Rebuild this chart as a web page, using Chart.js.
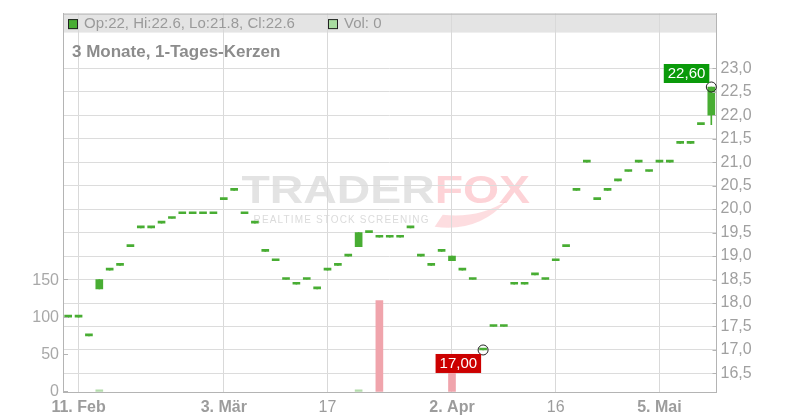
<!DOCTYPE html>
<html lang="de">
<head>
<meta charset="UTF-8">
<title>3 Monate, 1-Tages-Kerzen</title>
<script src="https://cdn.jsdelivr.net/npm/chart.js"></script>
<style>
  body { margin: 0; background: #fff; }
  canvas { display: block; }
</style>
</head>
<body>
<canvas id="chart" width="800" height="420"></canvas>
<script>
// Handelstage 10.02. - 12.05.
const days = [
  '10.02','11.02','12.02','13.02','14.02','17.02','18.02','19.02','20.02','21.02','24.02','25.02','26.02','27.02','28.02',
  '03.03','04.03','05.03','06.03','07.03','10.03','11.03','12.03','13.03','14.03','17.03','18.03','19.03','20.03','21.03',
  '24.03','25.03','26.03','27.03','28.03','31.03',
  '01.04','02.04','03.04','04.04','07.04','08.04','09.04','10.04','11.04','14.04','15.04','16.04','17.04','22.04','23.04',
  '24.04','25.04','28.04','29.04','30.04',
  '02.05','05.05','06.05','07.05','08.05','09.05','12.05'
];
const opens = [
  17.7,17.7,17.3,18.3,18.7,18.8,19.2,19.6,19.6,19.7,19.8,19.9,19.9,19.9,19.9,
  20.2,20.4,19.9,19.7,19.1,18.9,18.5,18.4,18.5,18.3,18.7,18.8,19.0,19.2,19.5,
  19.4,19.4,19.4,19.6,19.0,18.8,
  19.1,18.9,18.7,18.5,17.0,17.5,17.5,18.4,18.4,18.6,18.5,18.9,19.2,20.4,21.0,
  20.2,20.4,20.6,20.8,21.0,
  20.8,21.0,21.0,21.4,21.4,21.8,22.0
];
const highs = [
  17.7,17.7,17.3,18.5,18.7,18.8,19.2,19.6,19.6,19.7,19.8,19.9,19.9,19.9,19.9,
  20.2,20.4,19.9,19.7,19.1,18.9,18.5,18.4,18.5,18.3,18.7,18.8,19.0,19.5,19.5,
  19.4,19.4,19.4,19.6,19.0,18.8,
  19.1,19.0,18.7,18.5,17.0,17.5,17.5,18.4,18.4,18.6,18.5,18.9,19.2,20.4,21.0,
  20.2,20.4,20.6,20.8,21.0,
  20.8,21.0,21.0,21.4,21.4,21.8,22.6
];
const lows = [
  17.7,17.7,17.3,18.3,18.7,18.8,19.2,19.6,19.6,19.7,19.8,19.9,19.9,19.9,19.9,
  20.2,20.4,19.9,19.7,19.1,18.9,18.5,18.4,18.5,18.3,18.7,18.8,19.0,19.2,19.5,
  19.4,19.4,19.4,19.6,19.0,18.8,
  19.1,18.9,18.7,18.5,17.0,17.5,17.5,18.4,18.4,18.6,18.5,18.9,19.2,20.4,21.0,
  20.2,20.4,20.6,20.8,21.0,
  20.8,21.0,21.0,21.4,21.4,21.8,21.8
];
const closes = [
  17.7,17.7,17.3,18.5,18.7,18.8,19.2,19.6,19.6,19.7,19.8,19.9,19.9,19.9,19.9,
  20.2,20.4,19.9,19.7,19.1,18.9,18.5,18.4,18.5,18.3,18.7,18.8,19.0,19.5,19.5,
  19.4,19.4,19.4,19.6,19.0,18.8,
  19.1,19.0,18.7,18.5,17.0,17.5,17.5,18.4,18.4,18.6,18.5,18.9,19.2,20.4,21.0,
  20.2,20.4,20.6,20.8,21.0,
  20.8,21.0,21.0,21.4,21.4,21.8,22.6
];
const volumes = [
  0,0,0,3,0,0,0,0,0,0,0,0,0,0,0,
  0,0,0,0,0,0,0,0,0,0,0,0,0,3,0,
  123,0,0,0,0,0,
  0,35,0,0,0,0,0,0,0,0,0,0,0,0,0,
  0,0,0,0,0,
  0,0,0,0,0,0,0
];
// Achsenbeschriftung
const axisDays = ['11.02','03.03','17.03','02.04','16.04','05.05'];
const axisText = ['11. Feb','3. Mär','17','2. Apr','16','5. Mai'];
const priceTicks = [16.5,17,17.5,18,18.5,19,19.5,20,20.5,21,21.5,22,22.5,23];
const volTicks = [0,50,100,150];

const FONT = '"Liberation Sans", Arial, sans-serif';
const GREEN = '#48ad33';
const last = closes.length - 1;
const hiIdx = highs.indexOf(Math.max(...highs));
const loIdx = lows.indexOf(Math.min(...lows));
const fmt = v => v.toFixed(2).replace('.', ',');

const deco = {
  id: 'deco',
  beforeDraw(chart) {
    const { ctx, chartArea: a } = chart;
    ctx.save();
    ctx.fillStyle = '#fff';
    ctx.fillRect(0, 0, chart.width, chart.height);
    // Kopfzeile
    ctx.fillStyle = '#e4e4e4';
    ctx.fillRect(a.left, a.top, a.right - a.left, 19);

    // Wasserzeichen
    const cx = (a.left + a.right) / 2 - 4, cy = (a.top + a.bottom) / 2;
    ctx.font = 'bold 38px ' + FONT;
    ctx.textBaseline = 'alphabetic';
    const wT = ctx.measureText('TRADER').width, wF = ctx.measureText('FOX').width;
    const sx = 1.22;
    const x0 = cx - (wT + wF) * sx / 2;
    ctx.save();
    ctx.translate(x0, cy + 0.5);
    ctx.scale(sx, 1);
    ctx.fillStyle = 'rgba(200,200,200,0.5)';
    ctx.fillText('TRADER', 0, 0);
    ctx.fillStyle = 'rgba(250,150,160,0.42)';
    ctx.fillText('FOX', wT, 0);
    ctx.restore();
    // Fuchsschwanz
    const fx = x0 + wT * sx;
    ctx.fillStyle = 'rgba(250,150,160,0.32)';
    ctx.beginPath();
    ctx.moveTo(fx, cy + 24);
    ctx.quadraticCurveTo(fx + 44, cy + 30, fx + 72, cy - 2);
    ctx.quadraticCurveTo(fx + 44, cy + 16, fx + 8, cy + 12);
    ctx.closePath();
    ctx.fill();
    // Untertitel
    ctx.font = '10px ' + FONT;
    ctx.textBaseline = 'middle';
    const sub = 'REALTIME STOCK SCREENING';
    const ws = ctx.measureText(sub).width;
    ctx.letterSpacing = ((175 - ws) / (sub.length - 1)).toFixed(2) + 'px';
    ctx.fillStyle = 'rgba(195,195,195,0.6)';
    ctx.fillText(sub, x0 + 12, cy + 17.5);
    ctx.letterSpacing = '0px';
    ctx.restore();
  },
  afterDatasetsDraw(chart) {
    const { ctx, chartArea: a, scales } = chart;
    const x = scales.x, y = scales.y, v = scales.yVol;
    ctx.save();
    // Rahmen oben und Striche nach innen
    ctx.strokeStyle = '#b4b4b4';
    ctx.lineWidth = 1;
    ctx.beginPath();
    ctx.moveTo(a.left, a.top + 0.5);
    ctx.lineTo(a.right, a.top + 0.5);
    priceTicks.forEach(t => {
      const py = Math.round(y.getPixelForValue(t)) + 0.5;
      ctx.moveTo(a.right - 4, py); ctx.lineTo(a.right, py);
    });
    volTicks.forEach(t => {
      const py = Math.round(v.getPixelForValue(t)) - 0.5;
      ctx.moveTo(a.left, py); ctx.lineTo(a.left + 5, py);
    });
    ctx.stroke();

    // Legende in der Kopfzeile
    ctx.font = '15px ' + FONT;
    ctx.textBaseline = 'middle';
    const ly = a.top + 10.5;
    ctx.fillStyle = GREEN;
    ctx.fillRect(a.left + 5, ly - 5, 10, 10);
    ctx.strokeStyle = '#222';
    ctx.strokeRect(a.left + 5.5, ly - 4.5, 9, 9);
    ctx.fillStyle = '#9a9a9a';
    ctx.fillText(`Op:${opens[last]}, Hi:${highs[last]}, Lo:${lows[last]}, Cl:${closes[last]}`, a.left + 21, ly);
    ctx.fillStyle = '#a8dca0';
    ctx.fillRect(a.left + 265, ly - 5, 10, 10);
    ctx.strokeStyle = '#222';
    ctx.strokeRect(a.left + 265.5, ly - 4.5, 9, 9);
    ctx.fillStyle = '#9a9a9a';
    ctx.fillText(`Vol: ${volumes[last]}`, a.left + 281, ly);

    // Titel
    ctx.font = 'bold 17px ' + FONT;
    ctx.textBaseline = 'alphabetic';
    ctx.fillStyle = '#8c8c8c';
    ctx.fillText('3 Monate, 1-Tages-Kerzen', a.left + 9, a.top + 43);

    // Hoch / Tief Marken
    ctx.font = '15px ' + FONT;
    ctx.textBaseline = 'middle';
    [[hiIdx, highs[hiIdx], '#0a9a0a', -1], [loIdx, lows[loIdx], '#cc0000', 1]].forEach(([i, val, col, dir]) => {
      const px = x.getPixelForValue(i), py = y.getPixelForValue(val);
      const txt = fmt(val);
      const w = ctx.measureText(txt).width + 8, h = 19;
      const top = dir < 0 ? py - 4 - h : py + 4;
      ctx.fillStyle = col;
      ctx.fillRect(px - 2 - w, top, w, h);
      ctx.fillStyle = '#fff';
      ctx.fillText(txt, px - 2 - w + 4, top + h / 2 + 0.5);
    });
    ctx.restore();
  }
};

new Chart(document.getElementById('chart'), {
  type: 'bar',
  data: {
    labels: days,
    datasets: [
      {
        label: 'Vol',
        data: volumes,
        yAxisID: 'yVol',
        backgroundColor: closes.map((c, i) => volumes[i] === 0 ? 'rgba(0,0,0,0)' :
          (i > 0 && c < closes[i - 1] ? '#f0a4ac' : '#b4dcac')),
        barThickness: 7,
        grouped: false,
        order: 4
      },
      {
        label: 'Docht',
        data: lows.map((l, i) => [l, highs[i]]),
        yAxisID: 'y',
        backgroundColor: GREEN,
        barThickness: 1,
        grouped: false,
        order: 3
      },
      {
        label: 'Kerze',
        data: opens.map((o, i) => [o, closes[i]]),
        yAxisID: 'y',
        backgroundColor: GREEN,
        barThickness: 7,
        minBarLength: 2,
        grouped: false,
        order: 2
      },
      {
        type: 'line',
        label: 'Extrem',
        data: days.map((d, i) => i === hiIdx ? highs[i] : i === loIdx ? lows[i] : null),
        yAxisID: 'y',
        showLine: false,
        pointRadius: 5,
        pointBorderWidth: 1,
        pointBorderColor: '#222',
        pointBackgroundColor: 'rgba(0,0,0,0)',
        order: 1
      }
    ]
  },
  plugins: [deco],
  options: {
    responsive: false,
    animation: false,
    events: [],
    layout: { padding: { top: 11, left: 0, right: 0, bottom: 0 } },
    plugins: { legend: { display: false }, tooltip: { enabled: false } },
    scales: {
      x: {
        offset: true,
        afterFit: s => { s.height = 28; },
        border: { color: '#b4b4b4' },
        grid: {
          offset: false,
          drawTicks: false,
          color: c => axisDays.includes(days[c.index]) ? '#d9d9d9' : 'rgba(0,0,0,0)'
        },
        ticks: {
          autoSkip: false,
          maxRotation: 0,
          padding: 6,
          color: '#9c9c9c',
          font: c => {
            const k = axisDays.indexOf(days[c.index]);
            return { family: FONT, size: 16, weight: k >= 0 && axisText[k].includes(' ') ? 'bold' : 'normal' };
          },
          callback: (v, i) => {
            const k = axisDays.indexOf(days[i]);
            return k >= 0 ? axisText[k] : '';
          }
        }
      },
      y: {
        position: 'right',
        min: 16.105,
        max: 24.163,
        afterFit: s => { s.width = 83.5; },
        afterBuildTicks: s => { s.ticks = priceTicks.map(v => ({ value: v })); },
        border: { color: '#b4b4b4' },
        grid: { color: '#dcdcdc', drawTicks: false },
        ticks: {
          padding: 4,
          color: '#a0a0a0',
          font: { family: FONT, size: 16 },
          callback: v => v.toFixed(1).replace('.', ',')
        }
      },
      yVol: {
        position: 'left',
        min: 0,
        max: 509,
        afterFit: s => { s.width = 63; },
        afterBuildTicks: s => { s.ticks = volTicks.map(v => ({ value: v })); },
        border: { color: '#b4b4b4' },
        grid: { drawOnChartArea: false, drawTicks: false },
        ticks: {
          padding: 4,
          color: '#a8a8a8',
          font: { family: FONT, size: 16 }
        }
      }
    }
  }
});
</script>
</body>
</html>
